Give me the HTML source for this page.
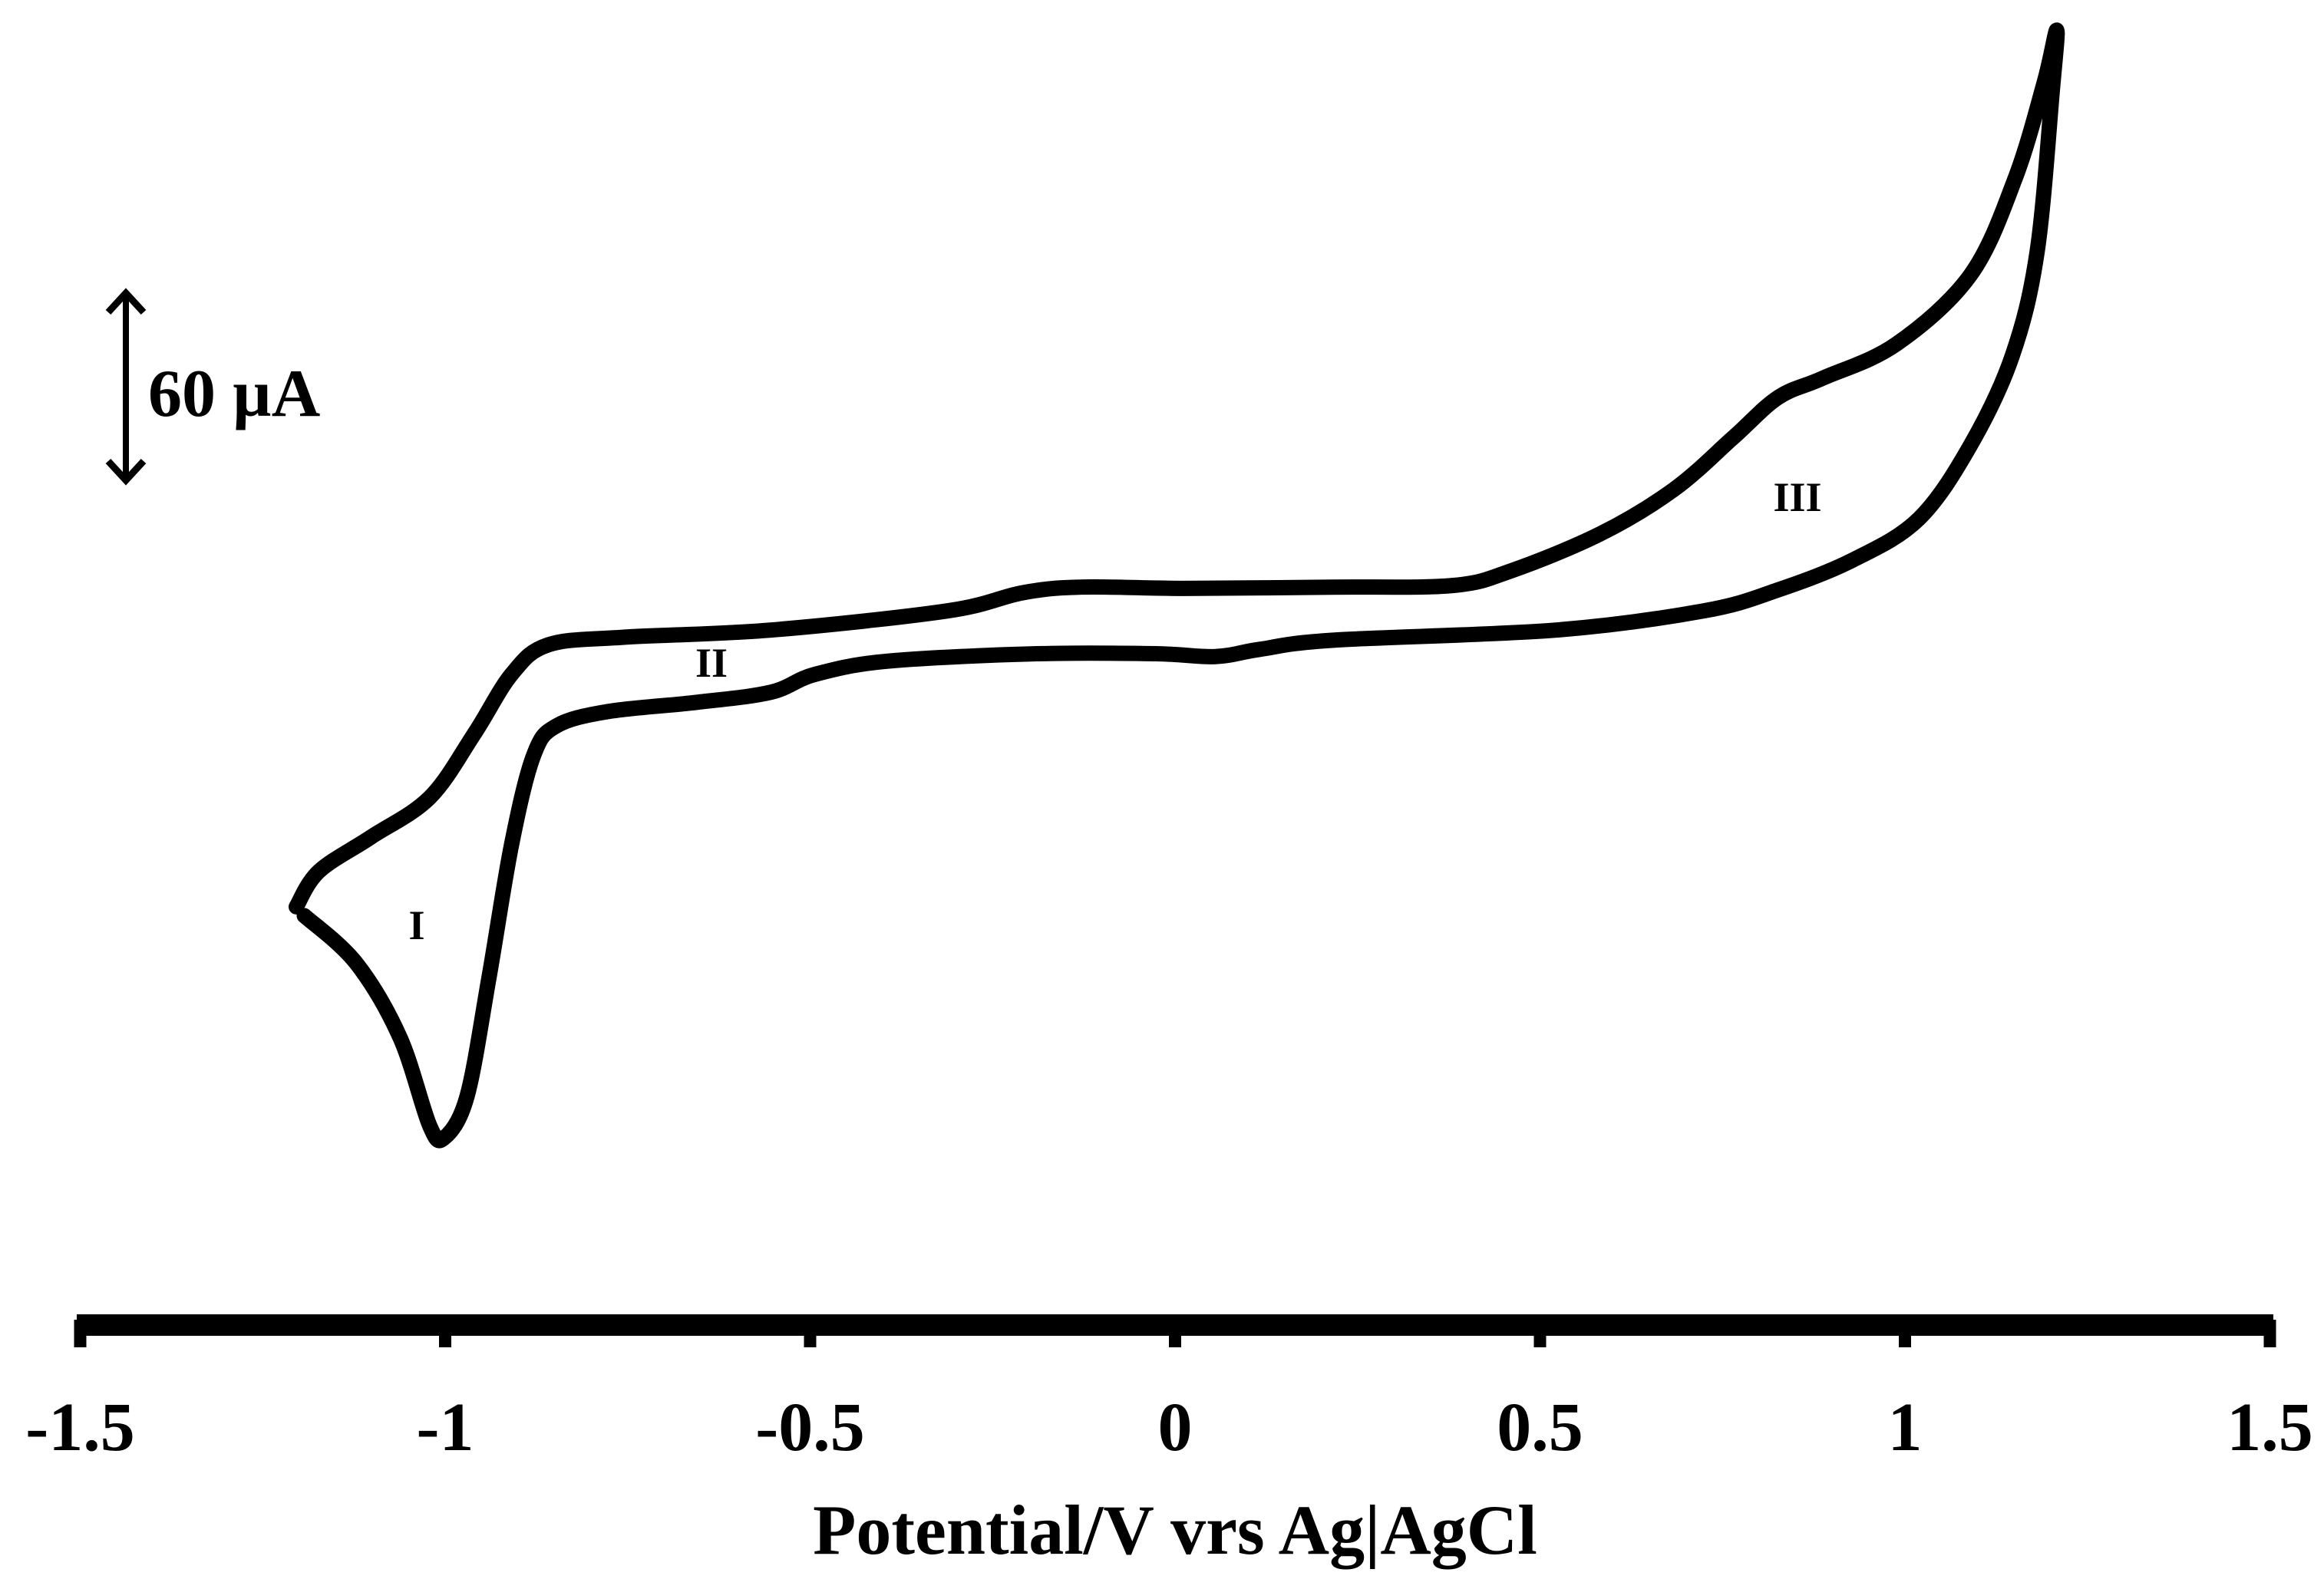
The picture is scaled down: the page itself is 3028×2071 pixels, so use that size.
<!DOCTYPE html>
<html><head><meta charset="utf-8"><style>
html,body{margin:0;padding:0;background:#fff;}
svg{display:block;}
text{font-family:"Liberation Serif",serif;font-weight:bold;fill:#000;}
</style></head><body>
<svg id="chart" width="3028" height="2071" viewBox="0 0 3028 2071">
<g>
<rect x="100" y="1713" width="2862" height="28" fill="#000"/>
<g id="ticks"></g>
</g>
<text x="1531" y="2025" font-size="92" text-anchor="middle">Potential/V vrs Ag|AgCl</text>
<g>
<line x1="164" y1="384" x2="164" y2="624" stroke="#000" stroke-width="8"/>
<polyline points="141,407 164,382 187,407" fill="none" stroke="#000" stroke-width="9"/>
<polyline points="141,601 164,626 187,601" fill="none" stroke="#000" stroke-width="9"/>
<text x="193" y="542" font-size="88">60 µA</text>
</g>
<path id="cv" fill="none" stroke="#000" stroke-width="20" stroke-linejoin="round" stroke-linecap="round"/>
<text x="543" y="1224" font-size="54" text-anchor="middle">I</text>
<text x="927" y="882" font-size="54" text-anchor="middle">II</text>
<text x="2342" y="666" font-size="54" text-anchor="middle">III</text>
</svg>
<script>
const tickValues = [-1.5, -1, -0.5, 0, 0.5, 1, 1.5];
const tickLabels = ["-1.5", "-1", "-0.5", "0", "0.5", "1", "1.5"];
const potential = [-1.204,-1.173,-1.102,-1.021,-0.960,-0.909,-0.859,-0.757,-0.554,-0.311,-0.209,-0.128,0.014,0.217,0.380,0.461,0.583,0.684,0.765,0.826,0.887,0.988,1.090,1.151,1.191,1.208,
 1.202,1.181,1.147,1.090,1.019,0.928,0.826,0.725,0.522,0.217,0.116,0.055,-0.026,-0.189,-0.392,-0.493,-0.554,-0.656,-0.777,-0.848,-0.879,-0.909,-0.940,-0.970,-1.001,-1.021,-1.062,-1.122,-1.193];
const current = [-80.6,-69.4,-58.6,-46.0,-25.8,-7.0,2.3,4.7,7.0,13.1,18.8,20.6,20.2,20.6,21.1,25.8,37.5,51.6,68.0,80.6,86.7,97.5,119.5,150.0,180.5,196.9,
 178.1,126.6,93.8,65.6,42.2,29.1,19.7,13.1,7.0,3.8,0.9,-1.4,-0.5,-0.5,-2.8,-7.0,-12.7,-15.9,-18.8,-23.4,-32.8,-60.9,-103.1,-140.6,-153.7,-150.0,-121.9,-98.4,-83.4];
const xs = v => 1531 + v * 951;
const ys = i => 850 - i * 4.117;
const NS = "http://www.w3.org/2000/svg";
const tg = document.getElementById('ticks');
tickValues.forEach((v, k) => {
  const l = document.createElementNS(NS, 'rect');
  
  
  l.setAttribute('x', xs(v) - 8); l.setAttribute('y', 1720); l.setAttribute('width', 16); l.setAttribute('height', 36);
  tg.appendChild(l);
  const t = document.createElementNS(NS, 'text');
  
  
  t.setAttribute('x', xs(v)); t.setAttribute('y', 1890); t.setAttribute('font-size', 90); t.setAttribute('text-anchor', 'middle');
  t.textContent = tickLabels[k];
  tg.appendChild(t);
});
const pts = potential.map((v, k) => [xs(v), ys(current[k])]);
let d = 'M' + pts[0][0] + ',' + pts[0][1];
for (let k = 0; k < pts.length - 1; k++) {
  const p0 = pts[Math.max(k - 1, 0)], p1 = pts[k], p2 = pts[k + 1], p3 = pts[Math.min(k + 2, pts.length - 1)];
  const c1 = [p1[0] + (p2[0] - p0[0]) / 6, p1[1] + (p2[1] - p0[1]) / 6];
  const c2 = [p2[0] - (p3[0] - p1[0]) / 6, p2[1] - (p3[1] - p1[1]) / 6];
  d += ` C${c1[0]},${c1[1]} ${c2[0]},${c2[1]} ${p2[0]},${p2[1]}`;
}
document.getElementById('cv').setAttribute('d', d);
</script>
</body></html>
